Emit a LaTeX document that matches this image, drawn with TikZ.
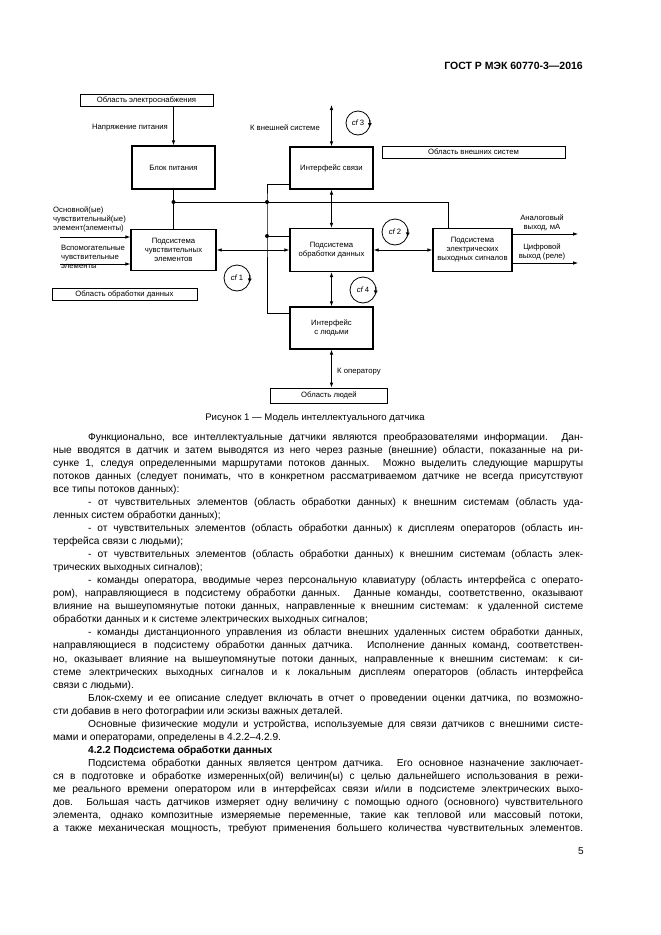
\documentclass[tikz,border=0pt]{standalone}
\usepackage{fontspec}
\setmainfont{Liberation Sans}
\usetikzlibrary{arrows.meta,calc}
\newcommand\dgfont{\fontsize{7.7}{9}\selectfont}
\newcommand\fullln[1]{\makebox[530pt][s]{#1}\par}
\newcommand\indln[1]{\makebox[530pt][s]{\hspace*{35pt}#1}\par}
\newcommand\lastln[1]{\makebox[530pt][l]{#1}\par}
\newcommand\indlastln[1]{\makebox[530pt][l]{\hspace*{35pt}#1}\par}
\begin{document}
\begin{tikzpicture}[x=1pt,y=-1pt,
  blk/.style={draw, line width=1.3pt, minimum width=83pt, minimum height=43pt, align=center, font=\dgfont, inner sep=1pt},
  area/.style={draw, line width=0.7pt, minimum height=12pt, inner sep=0pt, font=\dgfont},
  wire/.style={line width=0.8pt},
  arr/.style={wire, -{Latex[length=5pt,width=3.6pt]}},
  darr/.style={wire, {Latex[length=5pt,width=3.6pt]}-{Latex[length=5pt,width=3.6pt]}},
  dot/.style={circle, fill, inner sep=0pt, minimum size=4pt},
  lbl/.style={font=\dgfont, inner sep=0pt},
  cfc/.style={circle, draw, line width=0.8pt, minimum size=26pt, inner sep=0pt, font=\dgfont},
  cfarr/.style={line width=0.8pt, -{Latex[length=4.5pt,width=4pt]}}
]
\useasboundingbox[fill=white] (0,0) rectangle (661,935);

% header
\node[font=\bfseries\fontsize{10.5}{12}\selectfont, anchor=east, inner sep=0pt] (hdr) at (583,66) {ГОСТ Р МЭК 60770-3—2016};

% boxes
\node[area, minimum width=133pt] (esup) at (146.5,100) {Область электроснабжения};
\node[blk] (power) at (173.5,167.5) {Блок питания};
\node[blk, minimum height=42pt] (comm) at (331.5,168) {Интерфейс связи};
\node[area, minimum width=183pt] (ext) at (473.5,152) {Область внешних систем};
\node[blk, minimum width=85pt, minimum height=41pt] (sens) at (173.5,250) {Подсистема\\чувствительных\\элементов};
\node[blk] (proc) at (331.5,250) {Подсистема\\обработки данных};
\node[blk, minimum width=79pt] (elec) at (472.5,250) {Подсистема\\электрических\\выходных сигналов};
\node[area, minimum width=145pt] (darea) at (124.5,294) {Область обработки данных};
\node[blk, minimum height=42pt] (human) at (331.5,328) {Интерфейс\\с людьми};
\node[area, minimum width=117pt, minimum height=15pt] (people) at (329,395.5) {Область людей};

% power supply
\draw[arr] (esup.south -| power.north) -- (power.north);
\node[lbl, anchor=east] (lvolt) at (168,128) {Напряжение питания};

% bus
\coordinate (b1) at (173.5,202);
\coordinate (b2) at (267,202);
\coordinate (b3) at (448,202);
\coordinate (b4) at (267,236);
\draw[wire] (power.south) -- (sens.north);
\draw[wire] (b1) -- (b3) -- (b3 |- elec.north);
\draw[wire] ([yshift=-16pt]comm.west) -| (b2) |- ([yshift=15pt]human.west);
\draw[wire] (b4) -- (b4 -| proc.west);
\node[dot] (d1) at (b1) {};
\node[dot] (d2) at (b2) {};
\node[dot] (d3) at (b4) {};

% external system
\coordinate (ctop) at (331.5,105);
\draw[darr] (comm.north) -- (ctop);
\node[lbl, anchor=east] (lext) at (320,128) {К внешней системе};

% data paths
\draw[darr] (comm.south) -- (proc.north);
\draw[darr] (sens.east) -- (proc.west);
\draw[darr] (proc.east) -- (elec.west);
\draw[darr] (proc.south) -- (human.north);
\draw[darr] (human.south) -- (human.south |- people.north);
\node[lbl, anchor=west] (lop) at (337,372) {К оператору};

% inputs
\coordinate (in1) at (60,237);
\coordinate (in2) at (60,264);
\draw[arr] (in1) -- (in1 -| sens.west);
\draw[arr] (in2) -- (in2 -| sens.west);
\node[lbl, anchor=west, align=left] (lin1) at (53,219.5) {Основной(ые)\\чувствительный(ые)\\элемент(элементы)};
\node[lbl, anchor=west, align=left] (lin2) at (61,256.5) {Вспомогательные\\чувствительные\\элементы};

% outputs
\coordinate (o1) at (578,234);
\coordinate (o2) at (578,263);
\draw[arr] (o1 -| elec.east) -- (o1);
\draw[arr] (o2 -| elec.east) -- (o2);
\node[lbl, align=center] (lo1) at (542,223) {Аналоговый\\выход, мА};
\node[lbl, align=center] (lo2) at (542,251.5) {Цифровой\\выход (реле)};

% cf circles
\node[cfc, minimum size=24pt] (cf3) at (358,123) {\textit{cf}\,3};
\node[cfc] (cf2) at (395,232) {\textit{cf}\,2};
\node[cfc] (cf4) at (363,290) {\textit{cf}\,4};
\node[cfc] (cf1) at (237,278) {\textit{cf}\,1};
\foreach \c in {cf1,cf2,cf3,cf4} {\draw[cfarr] (\c.12) -- (\c.-22);}

% caption
\node[font=\fontsize{9.6}{11}\selectfont, inner sep=0pt] (cap) at (315,418) {Рисунок 1 — Модель интеллектуального датчика};

% body text
\node[anchor=base west, inner sep=0pt] (body) at (53,440.5) {\begin{minipage}[t]{530pt}
\fontsize{10.2}{13.03}\selectfont\setlength\parindent{0pt}\setlength\parskip{0pt}%
\indln{Функционально, все интеллектуальные датчики являются преобразователями информации. Дан-}
\fullln{ные вводятся в датчик и затем выводятся из него через разные (внешние) области, показанные на ри-}
\fullln{сунке 1, следуя определенными маршрутами потоков данных. Можно выделить следующие маршруты}
\fullln{потоков данных (следует понимать, что в конкретном рассматриваемом датчике не всегда присутствуют}
\lastln{все типы потоков данных):}
\indln{- от чувствительных элементов (область обработки данных) к внешним системам (область уда-}
\lastln{ленных систем обработки данных);}
\indln{- от чувствительных элементов (область обработки данных) к дисплеям операторов (область ин-}
\lastln{терфейса связи с людьми);}
\indln{- от чувствительных элементов (область обработки данных) к внешним системам (область элек-}
\lastln{трических выходных сигналов);}
\indln{- команды оператора, вводимые через персональную клавиатуру (область интерфейса с операто-}
\fullln{ром), направляющиеся в подсистему обработки данных. Данные команды, соответственно, оказывают}
\fullln{влияние на вышеупомянутые потоки данных, направленные к внешним системам: к удаленной системе}
\lastln{обработки данных и к системе электрических выходных сигналов;}
\indln{- команды дистанционного управления из области внешних удаленных систем обработки данных,}
\fullln{направляющиеся в подсистему обработки данных датчика. Исполнение данных команд, соответствен-}
\fullln{но, оказывает влияние на вышеупомянутые потоки данных, направленные к внешним системам: к си-}
\fullln{стеме электрических выходных сигналов и к локальным дисплеям операторов (область интерфейса}
\lastln{связи с людьми).}
\indln{Блок-схему и ее описание следует включать в отчет о проведении оценки датчика, по возможно-}
\lastln{сти добавив в него фотографии или эскизы важных деталей.}
\indln{Основные физические модули и устройства, используемые для связи датчиков с внешними систе-}
\lastln{мами и операторами, определены в 4.2.2–4.2.9.}
\indlastln{\textbf{4.2.2 Подсистема обработки данных}}
\indln{Подсистема обработки данных является центром датчика. Его основное назначение заключает-}
\fullln{ся в подготовке и обработке измеренных(ой) величин(ы) с целью дальнейшего использования в режи-}
\fullln{ме реального времени оператором или в интерфейсах связи и/или в подсистеме электрических выхо-}
\fullln{дов. Большая часть датчиков измеряет одну величину с помощью одного (основного) чувствительного}
\fullln{элемента, однако композитные измеряемые переменные, такие как тепловой или массовый потоки,}
\fullln{а также механическая мощность, требуют применения большего количества чувствительных элементов.}
\end{minipage}};

% page number
\node[font=\fontsize{10}{12}\selectfont, inner sep=0pt] (pnum) at (581,851) {5};
\end{tikzpicture}
\end{document}
